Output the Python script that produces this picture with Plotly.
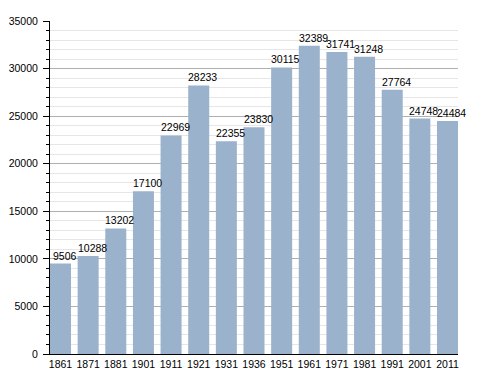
import plotly.graph_objects as go

years = ["1861", "1871", "1881", "1901", "1911", "1921", "1931", "1936",
         "1951", "1961", "1971", "1981", "1991", "2001", "2011"]
population = [9506, 10288, 13202, 17100, 22969, 28233, 22355, 23830,
              30115, 32389, 31741, 31248, 27764, 24748, 24484]

fig = go.Figure()
fig.add_trace(go.Bar(x=years, y=population, marker_color="#9bb2cc",
                     marker_line_width=0, hoverinfo="skip"))

for i, v in enumerate(population):
    fig.add_annotation(x=i, y=v, xref="x", yref="y", text=str(v), showarrow=False,
                       yanchor="bottom", xshift=4, yshift=0,
                       font=dict(size=10.5, color="#000"))

fig.update_layout(
    width=480, height=365,
    margin=dict(l=42, r=30, t=13, b=19),
    paper_bgcolor="white", plot_bgcolor="white",
    font=dict(family="Liberation Sans, Arial, sans-serif", size=10.5, color="#000"),
    bargap=0.24, showlegend=False,
)
fig.update_xaxes(type="category", range=[-0.38, 14.38], showline=True,
                 linecolor="#000", linewidth=1, ticks="", showgrid=False,
                 tickfont=dict(size=10.5), automargin=False)
fig.update_yaxes(range=[0, 35000], dtick=5000, showline=True, linecolor="#000",
                 linewidth=1, ticks="outside", ticklen=6, tickcolor="#000",
                 showgrid=True, gridcolor="#b0b0b0", gridwidth=1, zeroline=False,
                 exponentformat="none", tickformat="d", automargin=False,
                 ticklabelstandoff=3,
                 minor=dict(dtick=1000, ticks="outside", ticklen=3, tickcolor="#000",
                            showgrid=True, gridcolor="#e6e6e6", gridwidth=1),
                 tickfont=dict(size=10.5))

fig.write_html("out.html")
